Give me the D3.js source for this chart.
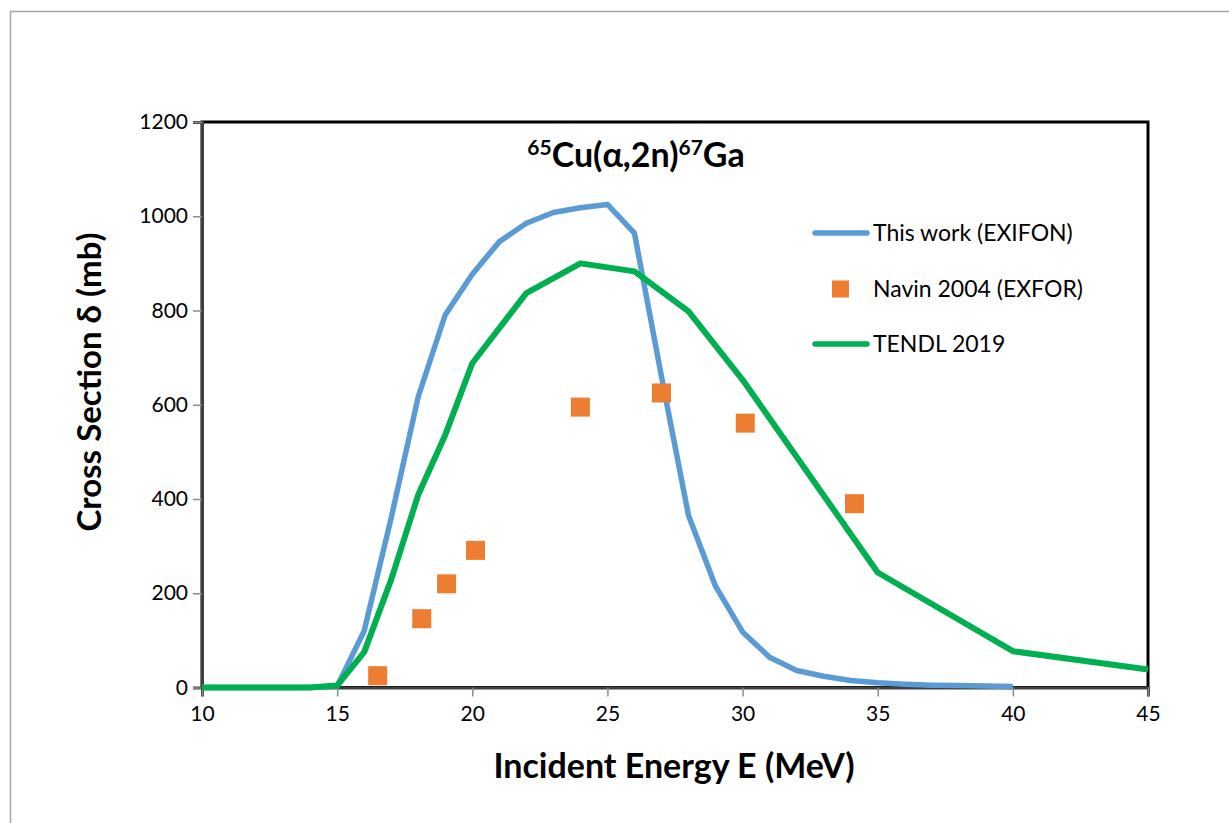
<!DOCTYPE html>
<html>
<head>
<meta charset="utf-8">
<script src="https://cdn.jsdelivr.net/npm/d3@7"></script>
<style>
  body { margin: 0; background: #fff; }
  svg { display: block; font-family: Lato, "Open Sans", sans-serif; }
</style>
</head>
<body>
<div id="chart"></div>
<script>
// data
var blueE = [10, 11, 12, 13, 14, 15, 16, 17, 18, 19, 20, 21, 22, 23, 24, 25, 26, 27, 28, 29, 30, 31, 32, 33, 34, 35, 36, 37, 38, 39, 40];
var blueXS = [0, 0, 0, 0, 0, 3, 120, 360, 617, 791, 877, 946, 985, 1008, 1018, 1025, 964, 660, 365, 215, 118, 64, 36, 24, 15, 10, 7, 5, 4, 3, 2];

var greenE = [10, 11, 12, 13, 14, 15, 16, 17, 18, 19, 20, 22, 24, 26, 28, 30, 35, 40, 45];
var greenXS = [0, 0, 0, 0, 0, 4, 75, 229, 409, 536, 688, 837, 900, 883, 798, 653, 244, 77, 38];

var expE = [16.5, 18.13, 19.05, 20.12, 24.0, 27.0, 30.1, 34.14];
var expXS = [25, 146, 220, 291, 595, 625, 561, 390];

var xTicks = [10, 15, 20, 25, 30, 35, 40, 45];
var yTicks = [0, 200, 400, 600, 800, 1000, 1200];

var seriesNames = ["This work (EXIFON)", "Navin 2004 (EXFOR)", "TENDL 2019"];
var seriesColors = ["#5B9BD5", "#ED7D31", "#00B050"];

var W = 1229, H = 823;
var mLeft = 202, mRight = 1148, mTop = 122, mBottom = 687.5;

var svg = d3.select("#chart").append("svg")
  .attr("width", W)
  .attr("height", H);

// outer chart border
svg.append("rect")
  .attr("x", 10.5).attr("y", 11.5)
  .attr("width", W).attr("height", H)
  .attr("fill", "none")
  .attr("stroke", "#a6a6a6")
  .attr("stroke-width", 1.5);

var x = d3.scaleLinear().domain([10, 45]).range([mLeft, mRight]);
var y = d3.scaleLinear().domain([0, 1200]).range([mBottom, mTop]);

// plot frame
svg.append("rect")
  .attr("x", mLeft).attr("y", mTop)
  .attr("width", mRight - mLeft).attr("height", mBottom - mTop)
  .attr("fill", "none")
  .attr("stroke", "#000")
  .attr("stroke-width", 3);

var yAxis = d3.axisLeft(y).tickValues(yTicks).tickSize(9).tickPadding(5).tickFormat(d3.format("d"));
var xAxis = d3.axisBottom(x).tickValues(xTicks).tickSize(9).tickPadding(10).tickFormat(d3.format("d"));

var gy = svg.append("g")
  .attr("transform", "translate(" + mLeft + ",0)")
  .call(yAxis);
var gx = svg.append("g")
  .attr("transform", "translate(0," + mBottom + ")")
  .call(xAxis);

[gx, gy].forEach(function(g) {
  g.select(".domain").attr("stroke", "#404040").attr("stroke-width", 3);
  g.selectAll(".tick line").attr("stroke", "#8c8c8c").attr("stroke-width", 1.5);
  g.selectAll(".tick text")
    .attr("fill", "#000")
    .style("font-size", "21px")
    .style("font-family", "Lato, sans-serif");
});

var line = d3.line()
  .x(function(d) { return x(d[0]); })
  .y(function(d) { return y(d[1]); });

// blue model curve
svg.append("path")
  .datum(d3.zip(blueE, blueXS))
  .attr("d", line)
  .attr("fill", "none")
  .attr("stroke", seriesColors[0])
  .attr("stroke-width", 5.5)
  .attr("stroke-linejoin", "round");

// experimental squares
var sq = 19;
svg.append("g").selectAll("rect")
  .data(d3.zip(expE, expXS))
  .enter().append("rect")
  .attr("x", function(d) { return x(d[0]) - sq / 2; })
  .attr("y", function(d) { return y(d[1]) - sq / 2; })
  .attr("width", sq)
  .attr("height", sq)
  .attr("fill", seriesColors[1]);

// green TENDL curve
svg.append("path")
  .datum(d3.zip(greenE, greenXS))
  .attr("d", line)
  .attr("fill", "none")
  .attr("stroke", seriesColors[2])
  .attr("stroke-width", 6)
  .attr("stroke-linejoin", "round");

// title
var title = svg.append("text")
  .attr("x", 636).attr("y", 167)
  .attr("text-anchor", "middle")
  .style("font-size", "34px")
  .style("font-weight", "bold");
title.append("tspan").attr("dy", "-12").style("font-size", "21px").text("65");
title.append("tspan").attr("dy", "12").text("Cu(α,2n)");
title.append("tspan").attr("dy", "-12").style("font-size", "21px").text("67");
title.append("tspan").attr("dy", "12").text("Ga");

// axis titles
svg.append("text")
  .attr("transform", "translate(101,382) rotate(-90)")
  .attr("text-anchor", "middle")
  .style("font-size", "33px")
  .style("font-weight", "bold")
  .text("Cross Section δ (mb)");

svg.append("text")
  .attr("x", 674).attr("y", 778)
  .attr("text-anchor", "middle")
  .style("font-size", "34px")
  .style("font-weight", "bold")
  .text("Incident Energy E (MeV)");

// legend
var legY = [233, 289, 344];
var leg = svg.append("g");
seriesNames.forEach(function(name, i) {
  if (i === 1) {
    leg.append("rect")
      .attr("x", 832).attr("y", legY[i] - 8.5)
      .attr("width", 17).attr("height", 17)
      .attr("fill", seriesColors[i]);
  } else {
    leg.append("line")
      .attr("x1", 815).attr("x2", 867)
      .attr("y1", legY[i]).attr("y2", legY[i])
      .attr("stroke", seriesColors[i])
      .attr("stroke-width", 5.5)
      .attr("stroke-linecap", "round");
  }
  leg.append("text")
    .attr("x", 873).attr("y", legY[i] + 8)
    .style("font-size", "23px")
    .text(name);
});
</script>
</body>
</html>
